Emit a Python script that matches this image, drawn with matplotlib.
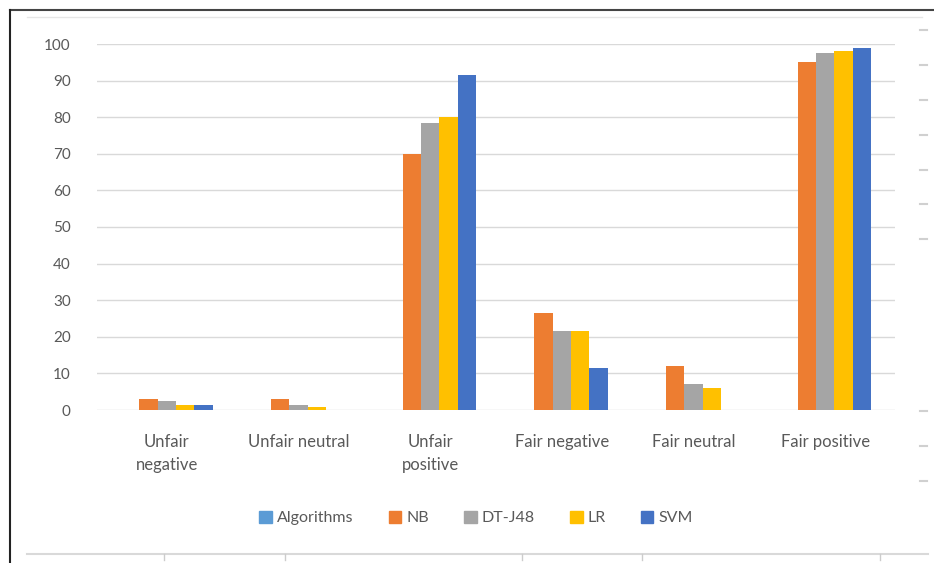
import numpy as np
import matplotlib.pyplot as plt
from matplotlib.lines import Line2D
from matplotlib.patches import Patch

plt.rcParams['font.family'] = ['Lato', 'DejaVu Sans']

# data
categories = ['Unfair\nnegative', 'Unfair neutral', 'Unfair\npositive',
              'Fair negative', 'Fair neutral', 'Fair positive']
series = ['Algorithms', 'NB', 'DT-J48', 'LR', 'SVM']
algorithms = [0, 0, 0, 0, 0, 0]
nb = [3, 3, 70, 26.5, 12, 95]
dt_j48 = [2.5, 1.5, 78.5, 21.5, 7, 97.5]
lr = [1.5, 0.7, 80, 21.5, 6, 98]
svm = [1.5, 0, 91.5, 11.5, 0, 99]
values = [algorithms, nb, dt_j48, lr, svm]
colors = ['#5B9BD5', '#ED7D31', '#A5A5A5', '#FFC000', '#4472C4']

W, H = 934, 563
fig = plt.figure(figsize=(W / 100, H / 100), dpi=100)
ax = fig.add_axes([97 / W, 1 - 410 / H, (895 - 97) / W, (410 - 44) / H])

x = np.arange(len(categories))
bw = 0.14
for i, (name, vals, c) in enumerate(zip(series, values, colors)):
    ax.bar(x + (i - 2) * bw, vals, width=bw, color=c, label=name, zorder=3)

ax.set_xlim(-0.53, 5.53)
ax.set_ylim(0, 100)
ax.set_yticks(np.arange(0, 101, 10))
ax.set_xticks(x)
ax.set_xticklabels(categories, fontsize=12, color='#595959', linespacing=1.55)
ax.tick_params(axis='y', length=0, pad=19, labelsize=11, labelcolor='#595959')
ax.tick_params(axis='x', length=0, pad=17)
ax.grid(axis='y', color='#d9d9d9', lw=1, zorder=0)
for s in ax.spines.values():
    s.set_visible(False)

handles = [Patch(color=c) for c in colors]
fig.legend(handles, series, loc='center', bbox_to_anchor=(476 / W, 1 - 518 / H),
           ncol=5, frameon=False, fontsize=11.5, handlelength=0.8, handleheight=0.8,
           handletextpad=0.3, columnspacing=2.2, labelcolor='#595959')

# frame bits from the screenshot
tr = fig.transFigure
def fx(px):
    return px / W
def fy(py):
    return 1 - py / H
fig.add_artist(Line2D([fx(10), fx(934)], [fy(10), fy(10)], color='#444444', lw=1.5, transform=tr))
fig.add_artist(Line2D([fx(10), fx(10)], [fy(10), fy(563)], color='#222222', lw=1.5, transform=tr))
fig.add_artist(Line2D([fx(27), fx(922)], [fy(17), fy(17)], color='#e6e6e6', lw=1, transform=tr))
fig.add_artist(Line2D([fx(27), fx(928)], [fy(554), fy(554)], color='#d9d9d9', lw=1.5, transform=tr))
for tx in [164, 285, 522, 642, 880]:
    fig.add_artist(Line2D([fx(tx), fx(tx)], [fy(554), fy(560)], color='#cccccc', lw=1, transform=tr))
for ty in [30, 65, 100, 135, 170, 204, 239, 411, 446, 481]:
    fig.add_artist(Line2D([fx(920), fx(927)], [fy(ty), fy(ty)], color='#d0d0d0', lw=1.5, transform=tr))

fig.savefig('out.png', dpi=100)
